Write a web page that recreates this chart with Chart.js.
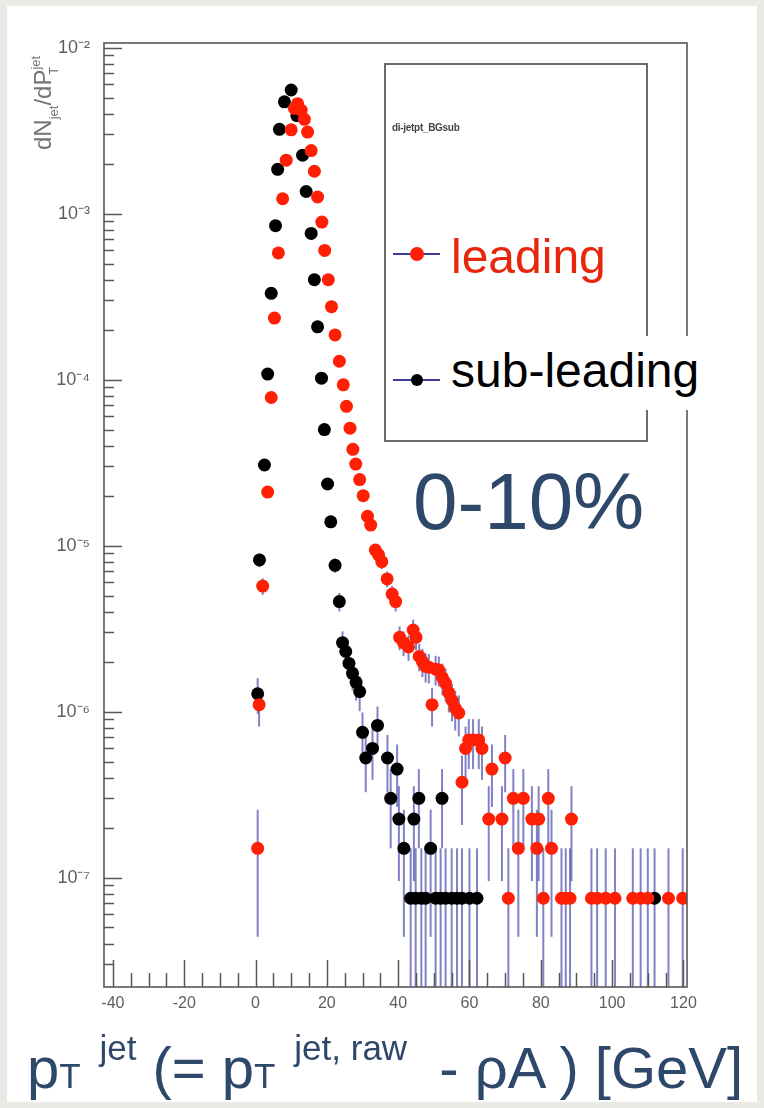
<!DOCTYPE html>
<html>
<head>
<meta charset="utf-8">
<title>di-jet pT, BG subtracted</title>
<script src="https://cdn.jsdelivr.net/npm/chart.js@4.4.1/dist/chart.umd.min.js"></script>
<style>
  html, body { margin: 0; padding: 0; }
  body {
    width: 764px; height: 1108px; position: relative; overflow: hidden;
    background: #ebe9e4;
    font-family: "Liberation Sans", Arial, Helvetica, sans-serif;
  }
  #paper { position: absolute; left: 7px; top: 6px; width: 750px; height: 1096px; background: #fff; }
  #chart { position: absolute; left: 0; top: 0; width: 764px; height: 1108px; filter: blur(0.4px); }
  #legend {
    position: absolute; left: 384px; top: 63px; width: 260px; height: 375px;
    border: 2px solid #6a6a6a;
  }
  #legend .ltitle {
    position: absolute; left: 6px; top: 57px;
    font-size: 10px; font-weight: bold; color: #444; letter-spacing: -0.3px;
  }
  #legend .sym { position: absolute; left: 7px; width: 47px; height: 2px; background: #3b3b9a; }
  #legend .sym i { position: absolute; left: 17px; top: -6px; width: 14px; height: 14px; border-radius: 50%; }
  #legend .txt {
    position: absolute; left: 65px; font-size: 48px; line-height: 48px; white-space: nowrap;
  }
  #legend .e0 .sym { top: 188px; }
  #legend .e0 .txt { top: 168px; }
  #legend .e1 .sym { top: 314px; }
  #legend .e1 .sym i { width: 12px; height: 12px; top: -5px; left: 18px; }
  #legend .e1 .txt { top: 271px; padding: 11px 4px 15px 4px; left: 61px; background: #fff; }
  #cent {
    position: absolute; left: 413px; top: 462px;
    font-size: 80px; line-height: 80px; color: #2e4869; white-space: nowrap;
  }
  #ytitle {
    position: absolute; left: 31px; top: 150px; transform: rotate(-90deg); transform-origin: left top;
    font-size: 24px; line-height: 24px; color: #747474; white-space: nowrap;
  }
  #ytitle .s { font-size: 13px; position: relative; top: 7px; }
  #ytitle .u { font-size: 13px; position: relative; top: -11px; }
  #ytitle .t { font-size: 13px; position: relative; top: 7px; margin-left: -19px; }
  #xtitle {
    position: absolute; left: 27px; top: 1039px; height: 60px;
    font-size: 58px; line-height: 58px; color: #2e4869; white-space: pre;
  }
  #xtitle .lo { font-size: 35px; }
  #xtitle .hi { font-size: 35px; position: relative; top: -28px; }
</style>
</head>
<body>
<div id="paper"></div>
<canvas id="chart" width="764" height="1108"></canvas>
<div id="legend"><div class="ltitle">di-jetpt_BGsub</div></div>
<div id="cent">0-10%</div>
<div id="ytitle">dN<span class="s">jet</span>/dP<span class="u">jet</span><span class="t">T</span></div>
<div id="xtitle">p<span class="lo">T</span><span class="hi">  jet</span> (= p<span class="lo">T</span><span class="hi">  jet, raw</span>  - ρA ) [GeV]</div>

<script>
// leading jet spectrum, 0-10%
const leadingPt = [
    0.6, 1.0, 2.0, 3.4, 4.4, 5.3, 6.4, 7.6, 8.6, 10.0,
    10.9, 11.8, 12.8, 13.7, 14.6, 15.6, 16.5, 17.4, 18.6, 19.4,
    20.4, 21.3, 22.3, 23.5, 24.6, 25.5, 26.5, 27.3, 28.1, 29.2,
    30.2, 31.4, 32.3, 33.6, 34.5, 35.4, 36.9, 38.3, 39.3, 40.4,
    41.5, 42.9, 44.2, 45.0, 45.9, 46.8, 47.7, 48.6, 49.5, 50.5,
    51.4, 52.4, 53.3, 54.2, 55.1, 56.0, 57.0, 57.9, 58.9, 59.8,
    61.0, 62.6, 63.5, 65.4, 66.3, 69.1, 70.0, 70.9, 72.3, 73.7,
    75.1, 77.5, 78.9, 79.4, 80.7, 82.1, 83.0, 85.8, 87.0, 88.2,
    88.6, 94.2, 95.8, 98.2, 100.8, 105.8, 108.0, 110.0, 115.8, 119.8
];
const leadingVal = [
    1.5e-7, 1.1e-6, 5.7e-6, 2.1e-5, 7.8e-5, 2.35e-4, 5.8e-4, 1.23e-3, 2.1e-3, 3.2e-3,
    4.3e-3, 4.6e-3, 4.2e-3, 3.7e-3, 3.1e-3, 2.4e-3, 1.8e-3, 1.26e-3, 8.9e-4, 6.0e-4,
    4.0e-4, 2.75e-4, 1.86e-4, 1.29e-4, 9.3e-5, 6.9e-5, 5.1e-5, 3.8e-5, 3.1e-5, 2.5e-5,
    2.0e-5, 1.5e-5, 1.33e-5, 9.4e-6, 8.8e-6, 8.0e-6, 6.3e-6, 5.1e-6, 4.6e-6, 2.8e-6,
    2.6e-6, 2.45e-6, 3.1e-6, 2.8e-6, 2.15e-6, 2.0e-6, 1.87e-6, 1.85e-6, 1.1e-6, 1.8e-6,
    1.78e-6, 1.6e-6, 1.48e-6, 1.3e-6, 1.17e-6, 1.05e-6, 9.8e-7, 3.75e-7, 6.0e-7, 6.75e-7,
    6.75e-7, 6.75e-7, 6.0e-7, 2.25e-7, 4.5e-7, 2.25e-7, 5.25e-7, 7.5e-8, 3.0e-7, 1.5e-7,
    3.0e-7, 2.25e-7, 1.5e-7, 2.25e-7, 7.5e-8, 3.0e-7, 1.5e-7, 7.5e-8, 7.5e-8, 7.5e-8,
    2.25e-7, 7.5e-8, 7.5e-8, 7.5e-8, 7.5e-8, 7.5e-8, 7.5e-8, 7.5e-8, 7.5e-8, 7.5e-8
];

// sub-leading jet spectrum
const subPt = [
    0.6, 1.1, 2.5, 3.4, 4.4, 5.6, 6.2, 6.7, 8.1, 10.0,
    11.6, 13.2, 14.2, 15.6, 16.5, 17.4, 18.5, 19.3, 20.2, 21.1,
    22.3, 23.5, 24.4, 25.3, 26.2, 27.2, 28.2, 29.2, 30.0, 30.9,
    32.8, 34.2, 37.0, 37.9, 39.7, 40.2, 41.6, 43.5, 44.4, 44.9,
    45.8, 46.5, 47.7, 49.1, 50.5, 51.9, 52.3, 53.3, 55.0, 56.5,
    57.9, 60.0, 62.1, 111.9
];
const subVal = [
    1.28e-6, 8.2e-6, 3.06e-5, 1.08e-4, 3.31e-4, 8.46e-4, 1.85e-3, 3.22e-3, 4.72e-3, 5.56e-3,
    3.9e-3, 2.25e-3, 1.36e-3, 7.6e-4, 4.0e-4, 2.08e-4, 1.02e-4, 5.0e-5, 2.35e-5, 1.39e-5,
    7.6e-6, 4.6e-6, 2.6e-6, 2.3e-6, 1.95e-6, 1.7e-6, 1.5e-6, 1.32e-6, 7.5e-7, 5.25e-7,
    6.0e-7, 8.25e-7, 5.25e-7, 3.0e-7, 4.5e-7, 2.25e-7, 1.5e-7, 7.5e-8, 2.25e-7, 7.5e-8,
    3.0e-7, 7.5e-8, 7.5e-8, 1.5e-7, 7.5e-8, 7.5e-8, 3.0e-7, 7.5e-8, 7.5e-8, 7.5e-8,
    7.5e-8, 7.5e-8, 7.5e-8, 7.5e-8
];

// weight of a single entry -> poisson error bars
const entryWeight = 7.5e-8;

const xTickValues = [-40, -20, 0, 20, 40, 60, 80, 100, 120];
const yTickValues = [1e-7, 1e-6, 1e-5, 1e-4, 1e-3, 1e-2];
const yTickLabels = ["10\u207B\u2077", "10\u207B\u2076", "10\u207B\u2075", "10\u207B\u2074", "10\u207B\u00B3", "10\u207B\u00B2"];

function toPoints(xs, ys) {
    return xs.map((x, i) => ({ x: x, y: ys[i] }));
}

const errorBars = {
    id: "errorBars",
    beforeDatasetsDraw(chart) {
        const ctx = chart.ctx;
        const a = chart.chartArea;
        const xs = chart.scales.x;
        const ys = chart.scales.y;
        ctx.save();
        ctx.beginPath();
        ctx.rect(a.left, a.top, a.right - a.left, a.bottom - a.top);
        ctx.clip();
        ctx.strokeStyle = "rgba(45, 45, 160, 0.6)";
        ctx.lineWidth = 2;
        chart.data.datasets.forEach(ds => {
            ds.data.forEach(p => {
                const err = Math.sqrt(p.y * entryWeight);
                const px = xs.getPixelForValue(p.x);
                const top = ys.getPixelForValue(p.y + err);
                const bottom = p.y - err > ys.min ? ys.getPixelForValue(p.y - err) : a.bottom;
                ctx.beginPath();
                ctx.moveTo(px, top);
                ctx.lineTo(px, bottom);
                ctx.stroke();
            });
        });
        ctx.restore();
    }
};

// ROOT style frame, ticks drawn inwards
const rootFrame = {
    id: "rootFrame",
    afterDraw(chart) {
        const ctx = chart.ctx;
        const a = chart.chartArea;
        const xs = chart.scales.x;
        const ys = chart.scales.y;
        ctx.save();
        ctx.strokeStyle = "#585858";
        ctx.lineWidth = 1.6;
        ctx.strokeRect(a.left, a.top, a.right - a.left, a.bottom - a.top);
        ctx.beginPath();
        for (let v = -40; v <= 120; v += 5) {
            const px = Math.round(xs.getPixelForValue(v)) + 0.5;
            const len = v % 20 === 0 ? 27 : 14;
            ctx.moveTo(px, a.bottom);
            ctx.lineTo(px, a.bottom - len);
        }
        for (let d = -8; d <= -2; d++) {
            for (let m = 1; m <= 9; m++) {
                const v = m * Math.pow(10, d);
                if (v < ys.min || v > ys.max) continue;
                const py = Math.round(ys.getPixelForValue(v)) + 0.5;
                ctx.moveTo(a.left, py);
                ctx.lineTo(a.left + (m === 1 ? 18 : 10), py);
            }
        }
        ctx.lineWidth = 1.5;
        ctx.stroke();
        ctx.restore();
    }
};

const chartConfig = {
    type: "scatter",
    data: {
        datasets: [
            {
                label: "leading",
                data: toPoints(leadingPt, leadingVal),
                backgroundColor: "#ff1f05",
                borderColor: "#ff1f05",
                pointRadius: 6.5,
                pointBorderWidth: 0,
                showLine: false
            },
            {
                label: "sub-leading",
                data: toPoints(subPt, subVal),
                backgroundColor: "#000000",
                borderColor: "#000000",
                pointRadius: 6.5,
                pointBorderWidth: 0,
                showLine: false
            }
        ]
    },
    options: {
        responsive: false,
        devicePixelRatio: 1,
        animation: false,
        layout: { padding: { left: 0, top: 43, right: 77, bottom: 0 } },
        plugins: { legend: { display: false }, tooltip: { enabled: false } },
        scales: {
            x: {
                type: "linear",
                min: -42.5,
                max: 121,
                grid: { display: false, drawTicks: false },
                border: { display: false },
                afterFit: scale => { scale.height = 121; },
                afterBuildTicks: scale => { scale.ticks = xTickValues.map(v => ({ value: v })); },
                ticks: {
                    padding: 7,
                    color: "#5e5e5e",
                    font: { family: "Liberation Sans", size: 16 },
                    callback: v => String(v)
                }
            },
            y: {
                type: "logarithmic",
                min: 2.19e-8,
                max: 1.067e-2,
                grid: { display: false, drawTicks: false },
                border: { display: false },
                afterFit: scale => { scale.width = 104; },
                afterBuildTicks: scale => { scale.ticks = yTickValues.map(v => ({ value: v })); },
                ticks: {
                    padding: 14,
                    color: "#5e5e5e",
                    font: { family: "Liberation Sans", size: 18 },
                    callback: v => yTickLabels[yTickValues.indexOf(v)] || ""
                }
            }
        }
    },
    plugins: [errorBars, rootFrame]
};

const canvasCtx = document.getElementById("chart").getContext("2d");
const chart = new Chart(canvasCtx, chartConfig);

// legend entries taken from the datasets
const legendBox = document.getElementById("legend");
const textColors = ["#e8260c", "#000000"];
chart.data.datasets.forEach((ds, i) => {
    const entry = document.createElement("div");
    entry.className = "e" + i;
    const sym = document.createElement("span");
    sym.className = "sym";
    const dot = document.createElement("i");
    dot.style.background = ds.backgroundColor;
    sym.appendChild(dot);
    const txt = document.createElement("span");
    txt.className = "txt";
    txt.style.color = textColors[i];
    txt.textContent = ds.label;
    entry.appendChild(sym);
    entry.appendChild(txt);
    legendBox.appendChild(entry);
});
</script>
</body>
</html>
